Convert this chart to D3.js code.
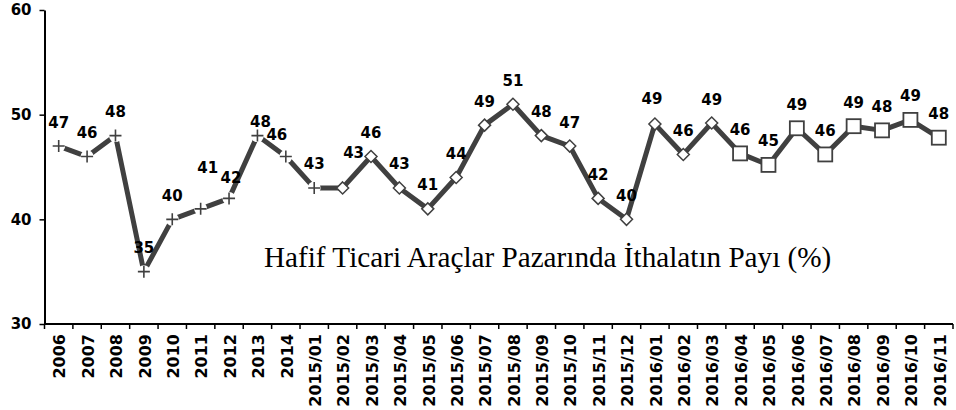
<!DOCTYPE html>
<html>
<head>
<meta charset="utf-8">
<script src="https://cdn.jsdelivr.net/npm/d3@7"></script>
<style>
  html, body { margin: 0; padding: 0; background: #fff; }
  svg { display: block; }
</style>
</head>
<body>
<svg id="chart" width="956" height="410"></svg>
<script>
// ---- data ----
const categories = ["2006","2007","2008","2009","2010","2011","2012","2013","2014",
  "2015/01","2015/02","2015/03","2015/04","2015/05","2015/06","2015/07","2015/08","2015/09","2015/10","2015/11","2015/12",
  "2016/01","2016/02","2016/03","2016/04","2016/05","2016/06","2016/07","2016/08","2016/09","2016/10","2016/11"];
const values = [47,46,48,35,40,41,42,48,46,
  43,43,46,43,41,44,49,51,48,47,42,40,
  49.1,46.2,49.2,46.3,45.2,48.7,46.2,48.9,48.5,49.5,47.8];
const labels = ["47","46","48","35","40","41","42","48","46",
  "43","43","46","43","41","44","49","51","48","47","42","40",
  "49","46","49","46","45","49","46","49","48","49","48"];
const crossCategories = categories.slice(0, 10);   // 2006 .. 2015/01
const diamondCategories = categories.slice(10, 24); // 2015/02 .. 2016/03
const squareCategories = categories.slice(24);     // 2016/04 .. 2016/11
const yTicks = [30, 40, 50, 60];
const title = "Hafif Ticari Araçlar Pazarında İthalatın Payı (%)";

// label nudges (pixels) for labels that are not centred above the point
const labelNudge = {"2011":[7,-17],"2012":[2,3],"2013":[3,10],"2014":[-9,2],"2015/02":[11,-11],"2016/01":[-3,-2]};

// ---- chart ----
const svg = d3.select("#chart");
const x = d3.scaleBand().domain(categories).range([44.5, 953]).padding(0);
const y = d3.scaleLinear().domain([30, 60]).range([324, 10]);
const bw = x.bandwidth();
const cx = c => x(c) + bw / 2;
const data = categories.map((c, i) => ({c, v: values[i], l: labels[i]}));
const byCat = new Map(data.map(d => [d.c, d]));
const boldFont = "'DejaVu Sans', Verdana, sans-serif";

// y axis
const yAxis = svg.append("g").attr("transform", "translate(44.5,0)")
  .call(d3.axisLeft(y).tickValues(yTicks).tickSize(5).tickSizeOuter(0).tickPadding(8));
yAxis.select(".domain").attr("stroke", "#000").attr("stroke-width", 2);
yAxis.selectAll(".tick line").attr("stroke", "#000").attr("stroke-width", 1.5);
yAxis.selectAll(".tick text").attr("font-family", boldFont).attr("font-weight", "bold")
  .attr("font-size", 15).attr("fill", "#000");

// x axis
const xg = svg.append("g");
xg.append("line").attr("x1", 44.5).attr("x2", 953).attr("y1", 324).attr("y2", 324)
  .attr("stroke", "#000").attr("stroke-width", 2);
const bounds = categories.map(c => x(c)).concat([x.range()[1]]);
xg.selectAll("line.tk").data(bounds).enter().append("line").attr("class", "tk")
  .attr("x1", d => d).attr("x2", d => d).attr("y1", 324).attr("y2", 329)
  .attr("stroke", "#000").attr("stroke-width", 1.5);
xg.selectAll("text").data(categories).enter().append("text")
  .attr("transform", c => `translate(${cx(c) + 1},334) rotate(-90)`)
  .attr("text-anchor", "end").attr("dy", "0.36em")
  .attr("font-family", boldFont).attr("font-weight", "bold").attr("font-size", 16)
  .attr("fill", "#000").text(c => c);

// title
svg.append("text").attr("x", 264).attr("y", 267)
  .attr("font-family", "'Liberation Serif', 'Times New Roman', serif")
  .attr("font-size", 29.2).attr("fill", "#000").text(title);

// line
const line = d3.line().x(d => cx(d.c)).y(d => y(d.v));
svg.append("path").datum(data).attr("d", line).attr("fill", "none")
  .attr("stroke", "#404040").attr("stroke-width", 5).attr("stroke-linejoin", "round");

// cross markers
const crosses = svg.append("g").selectAll("g").data(crossCategories.map(c => byCat.get(c))).enter()
  .append("g").attr("transform", d => `translate(${cx(d.c)},${y(d.v)})`);
crosses.append("circle").attr("r", 6.5).attr("fill", "#fff");
crosses.append("path").attr("d", "M-6,0H6M0,-6V6").attr("stroke", "#404040").attr("stroke-width", 1.6);

// diamond markers
svg.append("g").selectAll("path").data(diamondCategories.map(c => byCat.get(c))).enter()
  .append("path").attr("transform", d => `translate(${cx(d.c)},${y(d.v)})`)
  .attr("d", "M0,-6L6,0L0,6L-6,0Z").attr("fill", "#fff").attr("stroke", "#404040").attr("stroke-width", 1.5);

// square markers
svg.append("g").selectAll("rect").data(squareCategories.map(c => byCat.get(c))).enter()
  .append("rect").attr("x", d => cx(d.c) - 7).attr("y", d => y(d.v) - 7)
  .attr("width", 14).attr("height", 14).attr("fill", "#fff").attr("stroke", "#404040").attr("stroke-width", 1.8);

// data labels
svg.append("g").selectAll("text").data(data).enter().append("text")
  .attr("x", d => cx(d.c) + (labelNudge[d.c] ? labelNudge[d.c][0] : 0))
  .attr("y", d => y(d.v) - 18.5 + (labelNudge[d.c] ? labelNudge[d.c][1] : 0))
  .attr("text-anchor", "middle")
  .attr("font-family", boldFont).attr("font-weight", "bold").attr("font-size", 15)
  .attr("fill", "#000").text(d => d.l);
</script>
</body>
</html>
